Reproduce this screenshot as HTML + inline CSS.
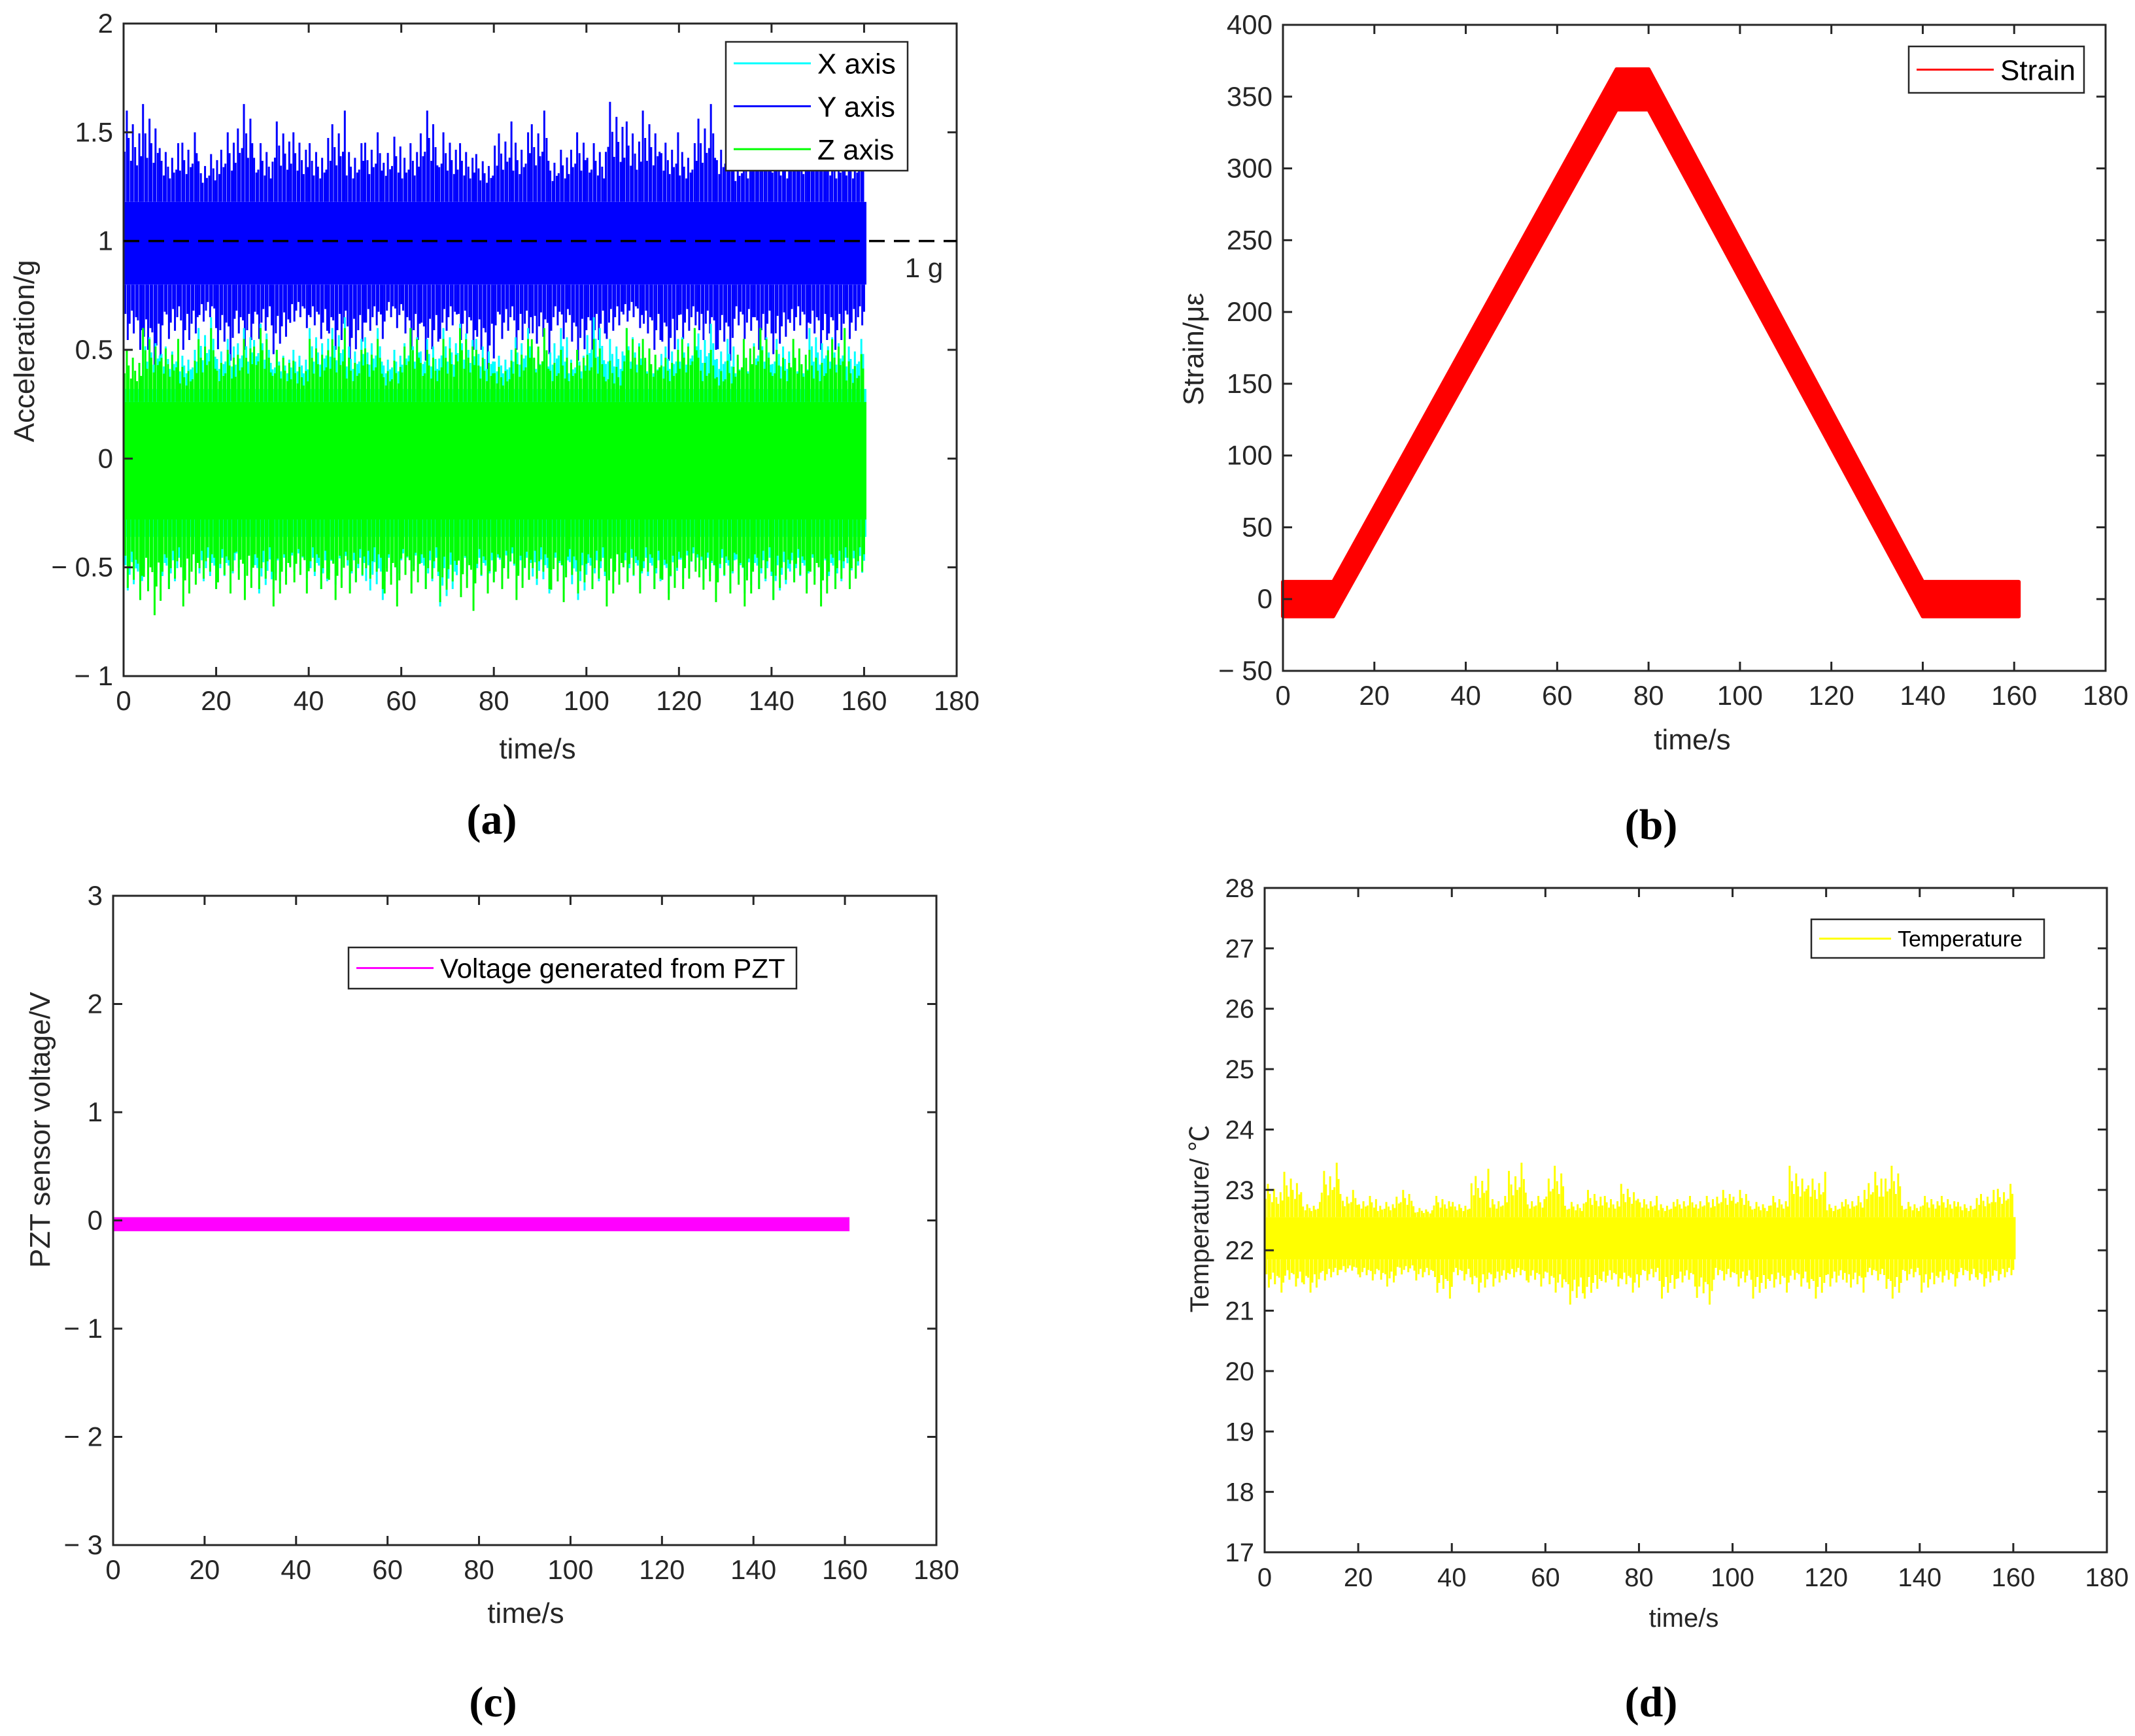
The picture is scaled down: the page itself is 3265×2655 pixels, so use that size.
<!DOCTYPE html>
<html><head><meta charset="utf-8"><style>
html,body{margin:0;padding:0;background:#fff;}
svg{display:block;font-family:"Liberation Sans",sans-serif;}
</style></head><body>
<svg id="fig" width="3265" height="2655" viewBox="0 0 3265 2655" xmlns="http://www.w3.org/2000/svg"></svg>
<script>
// ---- data ----
const xTicks = [0,20,40,60,80,100,120,140,160,180];
const aTicks = [-1,-0.5,0,0.5,1,1.5,2];
const aTickLabels = ["− 1","− 0.5","0","0.5","1","1.5","2"];
const yAxisHi = [1.6,1.63,1.45,1.5,1.4,1.5,1.63,1.45,1.55,1.5,1.45,1.6,1.45,1.5,1.48,1.45,1.6,1.5,1.45,1.4,1.55,1.5,1.6,1.42,1.5,1.45,1.64,1.55,1.6,1.5,1.45,1.63,1.5,1.42,1.6,1.45,1.5,1.55,1.45,1.45];
const yAxisLo = [0.5,0.4,0.55,0.5,0.6,0.45,0.5,0.55,0.48,0.6,0.55,0.5,0.45,0.55,0.6,0.5,0.45,0.55,0.5,0.4,0.55,0.5,0.48,0.55,0.45,0.5,0.55,0.6,0.5,0.45,0.55,0.5,0.45,0.55,0.5,0.48,0.55,0.5,0.5,0.55];
const xAxisHi = [0.3,0.6,0.55,0.5,0.65,0.55,0.6,0.62,0.5,0.5,0.6,0.65,0.55,0.6,0.5,0.6,0.55,0.6,0.62,0.55,0.5,0.6,0.55,0.6,0.5,0.65,0.55,0.6,0.5,0.55,0.6,0.62,0.55,0.5,0.6,0.55,0.5,0.6,0.6,0.55];
const xAxisLo = [-0.65,-0.6,-0.6,-0.55,-0.6,-0.6,-0.55,-0.62,-0.6,-0.55,-0.6,-0.58,-0.6,-0.65,-0.6,-0.55,-0.6,-0.68,-0.6,-0.6,-0.55,-0.6,-0.62,-0.6,-0.65,-0.6,-0.55,-0.6,-0.6,-0.62,-0.55,-0.6,-0.6,-0.62,-0.6,-0.65,-0.6,-0.6,-0.6,-0.58];
const zAxisHi = [0.5,0.6,0.55,0.45,0.6,0.5,0.55,0.6,0.5,0.45,0.55,0.6,0.5,0.55,0.45,0.6,0.5,0.55,0.6,0.5,0.45,0.55,0.6,0.5,0.5,0.55,0.45,0.6,0.55,0.5,0.6,0.5,0.45,0.55,0.6,0.5,0.55,0.5,0.6,0.48];
const zAxisLo = [-0.65,-0.72,-0.6,-0.68,-0.6,-0.62,-0.65,-0.6,-0.68,-0.62,-0.6,-0.65,-0.62,-0.6,-0.68,-0.62,-0.6,-0.66,-0.7,-0.62,-0.6,-0.65,-0.6,-0.66,-0.62,-0.6,-0.68,-0.62,-0.6,-0.65,-0.6,-0.66,-0.62,-0.68,-0.6,-0.65,-0.62,-0.68,-0.6,-0.6];
const bTicks = [-50,0,50,100,150,200,250,300,350,400];
const bTickLabels = ["− 50","0","50","100","150","200","250","300","350","400"];
const strainTimes = [0,11,73,80,140,161];
const strainValues = [0,0,355,355,0,0];
const strainHalfWidth = [12,12,14,14,12,12];
const cTicks = [-3,-2,-1,0,1,2,3];
const cTickLabels = ["− 3","− 2","− 1","0","1","2","3"];
const pztCore = [-0.1,0.03];
const dTicks = [17,18,19,20,21,22,23,24,25,26,27,28];
const tempHi = [23.1,23.3,22.8,23.45,23.0,22.9,22.8,23.0,22.7,22.9,22.8,23.35,22.9,23.45,22.9,23.4,22.8,23.0,22.9,23.1,22.9,22.8,22.9,22.9,23.0,23.0,22.8,22.9,23.4,23.3,22.8,22.9,23.3,23.4,22.8,22.9,22.9,22.8,23.0,23.1];
const tempLo = [21.3,21.4,21.3,21.5,21.6,21.5,21.4,21.6,21.5,21.2,21.5,21.3,21.4,21.5,21.4,21.3,21.1,21.2,21.4,21.3,21.5,21.2,21.4,21.1,21.5,21.4,21.2,21.3,21.4,21.2,21.4,21.3,21.5,21.2,21.5,21.3,21.4,21.5,21.4,21.5];
const tempCore = [21.85,22.55];
// ---- helpers ----
const NS="http://www.w3.org/2000/svg";
const svg=document.getElementById('fig');
const spikeOffsets=[0.2,0.7,1.1,1.6,2.0,2.5,2.9,3.4,3.8];
const spikeFrac=[0.55,1,0.7,0.45,0.85,0.6,0.4,0.75,0.5];
function mk(tag,attrs,parent){const e=document.createElementNS(NS,tag);for(const k in attrs)e.setAttribute(k,attrs[k]);(parent||svg).appendChild(e);return e;}
function axes(name,L,R,T,B,xmin,xmax,ymin,ymax){
  const sx=v=>L+(v-xmin)/(xmax-xmin)*(R-L), sy=v=>B-(v-ymin)/(ymax-ymin)*(B-T);
  const g=mk('g',{});
  
  
  return {g,sx,sy,L,R,T,B};
}
function frame(ax,yt,ylab,fs){
  const {g,sx,sy,L,R,T,B}=ax;
  const r=mk('rect',{x:L,y:T,width:R-L,height:B-T,fill:'none',stroke:'#262626','stroke-width':3},g);
  
  
  xTicks.forEach(v=>{
    const x=sx(v);
    mk('line',{x1:x,x2:x,y1:B,y2:B-14,stroke:'#262626','stroke-width':3},g);
    mk('line',{x1:x,x2:x,y1:T,y2:T+14,stroke:'#262626','stroke-width':3},g);
    const t=mk('text',{x:x,y:B+52,'text-anchor':'middle','font-size':fs,fill:'#262626'},g);
    t.textContent=v;
    
    
  });
  yt.forEach((v,i)=>{
    const y=sy(v);
    mk('line',{x1:L,x2:L+14,y1:y,y2:y,stroke:'#262626','stroke-width':3},g);
    mk('line',{x1:R,x2:R-14,y1:y,y2:y,stroke:'#262626','stroke-width':3},g);
    const t=mk('text',{x:L-16,y:y+14,'text-anchor':'end','font-size':fs,fill:'#262626'},g);
    t.textContent=ylab[i];
    
    
  });
}
function text(str,x,y,fs,name,opts){
  const t=mk('text',Object.assign({x:x,y:y,'font-size':fs,fill:'#262626','text-anchor':'middle'},opts||{}));
  t.textContent=str;
  
  
  return t;
}
function noise(ax,hi,lo,core,color,name){
  const {g,sx,sy}=ax;
  const s=mk('g',{stroke:color,'stroke-width':3,fill:color},g);
  
  
  mk('rect',{x:sx(0),y:sy(core[1]),width:sx(160.5)-sx(0),height:sy(core[0])-sy(core[1]),stroke:'none'},s);
  hi.forEach((v,i)=>{
    const t0=i*4;
    spikeOffsets.forEach((o,k)=>{
      const f=spikeFrac[(k+i)%spikeFrac.length];
      mk('line',{x1:sx(t0+o),x2:sx(t0+o),y1:sy(core[1]),y2:sy(core[1]+(v-core[1])*f)},s);
      const f2=spikeFrac[(k+i*2+3)%spikeFrac.length];
      mk('line',{x1:sx(t0+o+0.2),x2:sx(t0+o+0.2),y1:sy(core[0]),y2:sy(core[0]+(lo[i]-core[0])*f2)},s);
    });
  });
}
function legend(x,y,w,h,items,fs,name){
  const g=mk('g',{});
  
  
  mk('rect',{x:x,y:y,width:w,height:h,fill:'#fff',stroke:'#262626','stroke-width':2.5},g);
  const rh=h/items.length;
  items.forEach((it,i)=>{
    const cy=y+rh*(i+0.5);
    mk('line',{x1:x+12,x2:x+12+it.len,y1:cy,y2:cy,stroke:it.c,'stroke-width':3},g);
    const t=mk('text',{x:x+22+it.len,y:cy+fs*0.36,'font-size':fs,fill:'#000'},g);
    t.textContent=it.t;
    
    
  });
}
// ---- panel a ----
const A=axes('panel-a-acceleration',189,1463,36,1034,0,180,-1,2);
noise(A,yAxisHi,yAxisLo,[0.8,1.18],'#0000ff','y-axis-series');
noise(A,xAxisHi,xAxisLo,[-0.36,0.32],'#00ffff','x-axis-series');
noise(A,zAxisHi,zAxisLo,[-0.28,0.26],'#00ff00','z-axis-series');
const gl=mk('line',{x1:A.sx(0),x2:A.R,y1:A.sy(1),y2:A.sy(1),stroke:'#000','stroke-width':3.5,'stroke-dasharray':'24,14'});


frame(A,aTicks,aTickLabels,42);
text('1 g',1413,424,42,'one-g-label');
legend(1110,64,278,197,[{t:'X axis',c:'#00ffff',len:118},{t:'Y axis',c:'#0000ff',len:118},{t:'Z axis',c:'#00ff00',len:118}],44,'legend-a');
text('time/s',822,1160,44,'x-axis-title-a');
text('Acceleration/g',0,0,44,'y-axis-title-a',{transform:'translate(52,537) rotate(-90)'});
text('(a)',752,1275,66,'panel-label-a',{'font-family':'Liberation Serif','font-weight':'bold',fill:'#000'});
// ---- panel b ----
const Bp=axes('panel-b-strain',1962,3220,38,1026,0,180,-50,400);
(function(){
  const {g,sx,sy}=Bp;
  const up=strainTimes.map((t,i)=>sx(t)+','+sy(strainValues[i]+strainHalfWidth[i]));
  const dn=strainTimes.map((t,i)=>sx(t)+','+sy(strainValues[i]-strainHalfWidth[i])).reverse();
  const p=mk('polygon',{points:up.concat(dn).join(' '),fill:'#ff0000',stroke:'#ff0000','stroke-width':6,'stroke-linejoin':'round'},g);
  
  
})();
frame(Bp,bTicks,bTickLabels,42);
legend(2919,71,268,71,[{t:'Strain',c:'#ff0000',len:118}],44,'legend-b');
text('time/s',2588,1146,44,'x-axis-title-b');
text('Strain/με',0,0,44,'y-axis-title-b',{transform:'translate(1840,534) rotate(-90)'});
text('(b)',2525,1283,66,'panel-label-b',{'font-family':'Liberation Serif','font-weight':'bold',fill:'#000'});
// ---- panel c ----
const C=axes('panel-c-pzt',173,1432,1370,2363,0,180,-3,3);
(function(){
  const {g,sx,sy}=C;
  const r=mk('rect',{x:sx(0),y:sy(pztCore[1]),width:sx(161)-sx(0),height:sy(pztCore[0])-sy(pztCore[1]),fill:'#ff00ff'},g);
  
  
})();
frame(C,cTicks,cTickLabels,42);
legend(533,1449,685,63,[{t:'Voltage generated from PZT',c:'#ff00ff',len:118}],42,'legend-c');
text('time/s',804,2482,44,'x-axis-title-c');
text('PZT sensor voltage/V',0,0,44,'y-axis-title-c',{transform:'translate(76,1728) rotate(-90)'});
text('(c)',754,2625,66,'panel-label-c',{'font-family':'Liberation Serif','font-weight':'bold',fill:'#000'});
// ---- panel d ----
const D=axes('panel-d-temperature',1934,3222,1358,2374,0,180,17,28);
noise(D,tempHi,tempLo,tempCore,'#ffff00','temperature-series');
frame(D,dTicks,dTicks,40);
legend(2770,1406,356,59,[{t:'Temperature',c:'#ffff00',len:110}],34,'legend-d');
text('time/s',2575,2488,40,'x-axis-title-d');
text('Temperature/ ℃',0,0,40,'y-axis-title-d',{transform:'translate(1848,1864) rotate(-90)','font-family':'Liberation Sans, Noto Sans CJK SC, sans-serif'});
text('(d)',2525,2625,66,'panel-label-d',{'font-family':'Liberation Serif','font-weight':'bold',fill:'#000'});
</script>
</body></html>
